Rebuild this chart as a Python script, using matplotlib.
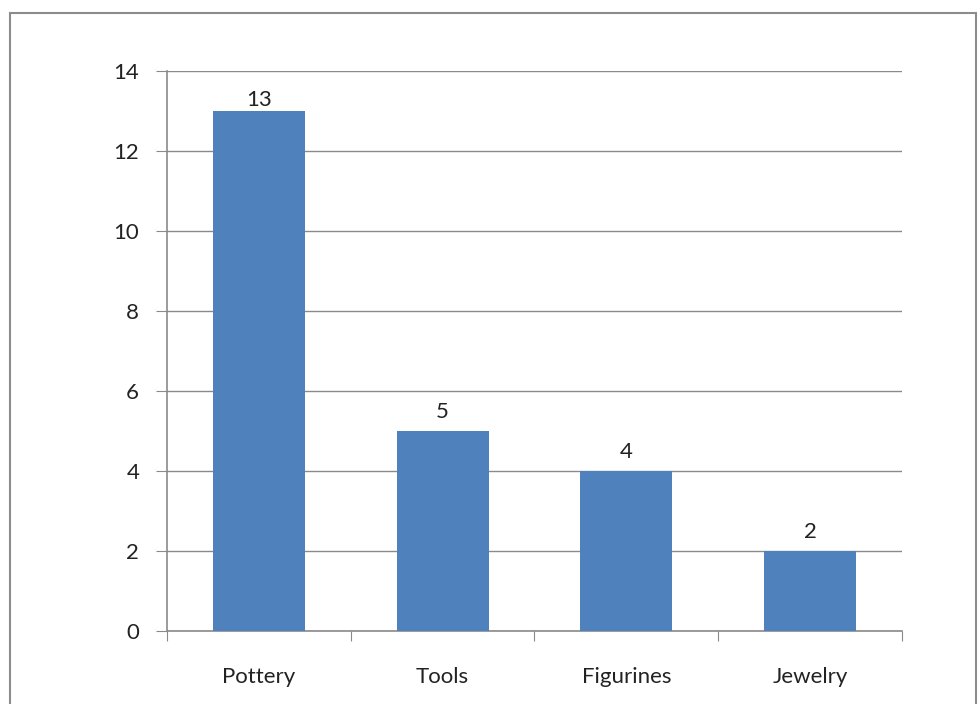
import matplotlib.pyplot as plt
from matplotlib.patches import Rectangle
import numpy as np

categories = ["Pottery", "Tools", "Figurines", "Jewelry"]
counts = [13, 5, 4, 2]
y_ticks = [0, 2, 4, 6, 8, 10, 12, 14]

plt.rcParams["font.family"] = ["Lato", "DejaVu Sans"]

fig = plt.figure(figsize=(9.79, 7.04), dpi=100)
ax = fig.add_axes([0.1706, 0.1037, 0.7507, 0.7954])

# outer chart border like the spreadsheet chart area
fig.patches.append(Rectangle((10 / 979, -0.01), 966 / 979, 1 - 13 / 704 + 0.01,
                             transform=fig.transFigure, fill=False,
                             edgecolor="#8c8c8c", linewidth=1.5))

x = np.arange(len(categories))
ax.bar(x, counts, width=0.5, color="#4f81bd", zorder=3)
for xi, v in zip(x, counts):
    # labels sit above the bar, but get squeezed to stay inside the plot area
    ax.text(xi, min(v + 0.22, 13.02), str(v), ha="center", va="bottom",
            fontsize=16, color="#222222")

ax.set_xlim(-0.5, len(categories) - 0.5)
ax.set_ylim(0, 14)
ax.set_yticks(y_ticks)
ax.yaxis.grid(True, color="#8a8a8a", linewidth=1, zorder=0)
ax.tick_params(axis="y", length=8, color="#8a8a8a", labelsize=16, labelcolor="#222222", pad=12)

# category labels centered, tick marks between categories
ax.set_xticks(np.arange(-0.5, len(categories)), minor=False)
ax.set_xticklabels([])
ax.set_xticks(x, minor=True)
ax.set_xticklabels(categories, minor=True)
ax.tick_params(axis="x", which="major", length=7, color="#8a8a8a")
ax.tick_params(axis="x", which="minor", length=0, labelsize=16, labelcolor="#222222", pad=26)

for side in ["top", "right"]:
    ax.spines[side].set_visible(False)
for side in ["left", "bottom"]:
    ax.spines[side].set_color("#8a8a8a")
    ax.spines[side].set_linewidth(1.2)

fig.savefig("out.png", dpi=100)
